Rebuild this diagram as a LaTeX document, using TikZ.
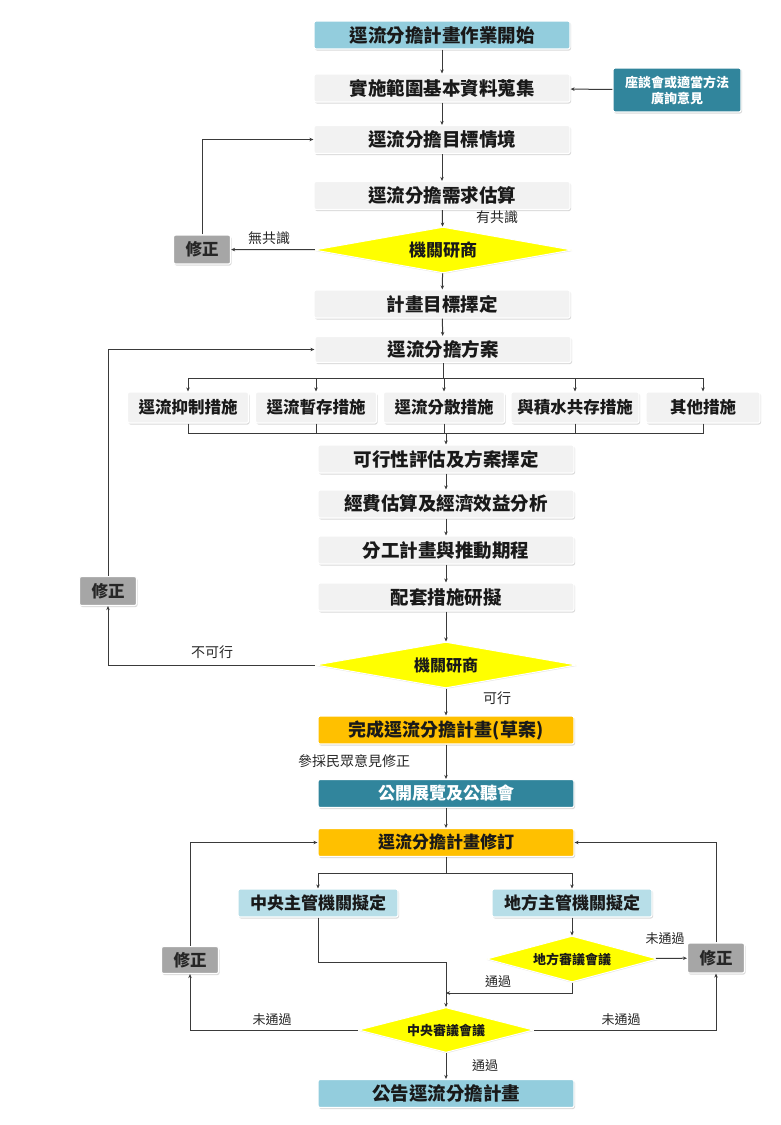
\documentclass[tikz,border=0pt]{standalone}
\usepackage{fontspec}
\setmainfont{Noto Sans CJK TC}
\usepackage{tikz}
\usepackage{xcolor}
\usetikzlibrary{shapes.geometric, shadows, arrows.meta}
\definecolor{start-blue}{HTML}{93CDDD}
\definecolor{light-blue}{HTML}{B7DEE8}
\definecolor{step-gray}{HTML}{F2F2F2}
\definecolor{deep-teal}{HTML}{31859C}
\definecolor{draft-orange}{HTML}{FFC000}
\definecolor{check-yellow}{HTML}{FFFF00}
\definecolor{fix-gray}{HTML}{A6A6A6}
\definecolor{line-gray}{HTML}{3A3A3A}
\tikzset{
    step-box/.style = {draw=white, fill=step-gray, line width=1.2pt, rectangle, rounded corners=2pt, minimum width=256pt, minimum height=28pt, inner sep=0pt, text=black!90, font=\fontsize{18.5pt}{20pt}\selectfont\bfseries, drop shadow={shadow xshift=1pt, shadow yshift=-1.5pt, opacity=0.3}},
    sub-box/.style = {step-box, minimum width=121pt, minimum height=31pt, font=\fontsize{16.5pt}{18pt}\selectfont\bfseries},
    side-box/.style = {step-box, fill=deep-teal, text=white, minimum width=128pt, minimum height=44pt, align=center, font=\fontsize{13pt}{16pt}\selectfont\bfseries},
    fix-box/.style = {step-box, fill=fix-gray, text=black!85, minimum width=57pt, minimum height=29pt, font=\fontsize{16.5pt}{18pt}\selectfont\bfseries},
    check-diamond/.style = {diamond, aspect=5, draw=white, fill=check-yellow, line width=1pt, inner sep=0pt, text=black!90, font=\fontsize{17pt}{18pt}\selectfont\bfseries, drop shadow={shadow xshift=0.5pt, shadow yshift=-1pt, opacity=0.2}},
    note-label/.style = {font=\fontsize{14pt}{16pt}\selectfont, text=black!85, inner sep=1pt},
    flow-line/.style = {draw=line-gray, line width=1pt},
    flow-arrow/.style = {flow-line, -{Stealth[length=4pt, width=3.5pt]}},
}

\begin{document}
\begin{tikzpicture}[x=1pt, y=-1pt]
\useasboundingbox (0,0) rectangle (781,1125);
% upper part
\node[step-box, fill=start-blue] (start) at (442,35) {逕流分擔計畫作業開始};
\node[step-box] (collect) at (442,88) {實施範圍基本資料蒐集};
\node[side-box] (hearing) at (677,90) {座談會或適當方法\\廣詢意見};
\node[step-box] (target) at (442,139.5) {逕流分擔目標情境};
\node[step-box] (demand) at (442,195.5) {逕流分擔需求估算};
\node[check-diamond, minimum width=258pt, minimum height=46pt] (consult1) at (443,250) {機關研商};
\node[fix-box] (fix1) at (202,249.5) {修正};
\node[step-box] (goal) at (442,304) {計畫目標擇定};
\node[step-box, minimum height=26pt] (plan) at (443,349.5) {逕流分擔方案};
\node[note-label] at (497,217) {有共識};
\node[note-label] at (269,238) {無共識};
% measures
\node[sub-box] (measure1) at (188,407.5) {逕流抑制措施};
\node[sub-box] (measure2) at (316,407.5) {逕流暫存措施};
\node[sub-box] (measure3) at (444,407.5) {逕流分散措施};
\node[sub-box, minimum width=128pt] (measure4) at (575,407.5) {與積水共存措施};
\node[sub-box, minimum width=114pt] (measure5) at (703,407.5) {其他措施};
\coordinate (bus-top) at (443,378);
\coordinate (bus-bottom) at (446,433);
% middle part
\node[step-box] (feasible) at (446,459) {可行性評估及方案擇定};
\node[step-box] (budget) at (446,504) {經費估算及經濟效益分析};
\node[step-box] (schedule) at (446,550) {分工計畫與推動期程};
\node[step-box] (support) at (446,597) {配套措施研擬};
\node[check-diamond, minimum width=261pt, minimum height=46pt, font=\fontsize{16pt}{18pt}\selectfont\bfseries] (consult2) at (446,665) {機關研商};
\node[fix-box] (fix2) at (108,591) {修正};
\node[note-label] at (212,652) {不可行};
\node[note-label] at (497,698) {可行};
% lower part
\node[step-box, fill=draft-orange, font=\fontsize{18pt}{20pt}\selectfont\bfseries] (draft) at (446,730) {完成逕流分擔計畫(草案)};
\node[step-box, fill=deep-teal, text=white, font=\fontsize{17pt}{18pt}\selectfont\bfseries] (exhibit) at (446,793.5) {公開展覽及公聽會};
\node[step-box, fill=draft-orange, font=\fontsize{17pt}{18pt}\selectfont\bfseries] (revise) at (446,842.5) {逕流分擔計畫修訂};
\node[note-label] at (354,761) {參採民眾意見修正};
\node[step-box, fill=light-blue, minimum width=160pt, font=\fontsize{17pt}{18pt}\selectfont\bfseries] (central) at (318,903) {中央主管機關擬定};
\node[step-box, fill=light-blue, minimum width=160pt, font=\fontsize{17pt}{18pt}\selectfont\bfseries] (local) at (572,903) {地方主管機關擬定};
\node[check-diamond, aspect=3.7, minimum width=171pt, minimum height=46pt, font=\fontsize{13pt}{15pt}\selectfont\bfseries] (local-review) at (572,959) {地方審議會議};
\node[check-diamond, aspect=3.9, minimum width=175pt, minimum height=45pt, font=\fontsize{13pt}{15pt}\selectfont\bfseries] (central-review) at (446,1030) {中央審議會議};
\node[fix-box, minimum height=27pt] (fix3) at (190,960) {修正};
\node[fix-box, minimum height=30pt] (fix4) at (716,958) {修正};
\node[step-box, fill=start-blue] (announce) at (446,1093.5) {公告逕流分擔計畫};
\coordinate (split) at (446,873);
\coordinate (merge) at (446,962);
\coordinate (join) at (446,993);
\node[note-label, font=\fontsize{13pt}{15pt}\selectfont] at (665,939) {未通過};
\node[note-label, font=\fontsize{13pt}{15pt}\selectfont] at (498,982) {通過};
\node[note-label, font=\fontsize{13pt}{15pt}\selectfont] at (272,1020) {未通過};
\node[note-label, font=\fontsize{13pt}{15pt}\selectfont] at (621,1020) {未通過};
\node[note-label, font=\fontsize{13pt}{15pt}\selectfont] at (485,1066) {通過};
% connectors
\draw[flow-arrow] (start) -- (collect);
\draw[flow-arrow] (hearing) -- (collect);
\draw[flow-arrow] (collect) -- (target);
\draw[flow-arrow] (target) -- (demand);
\draw[flow-arrow] (demand) -- (consult1);
\draw[flow-arrow] (consult1) -- (fix1);
\draw[flow-arrow] (fix1) |- (target);
\draw[flow-arrow] (consult1) -- (goal);
\draw[flow-arrow] (goal) -- (plan);
\draw[flow-line] (plan) -- (bus-top);
\foreach \m in {measure1,measure2,measure3,measure4,measure5} {
    \draw[flow-arrow] (bus-top) -| (\m);
    \draw[flow-line] (\m) |- (bus-bottom);
}
\draw[flow-arrow] (bus-bottom) -- (feasible);
\draw[flow-arrow] (feasible) -- (budget);
\draw[flow-arrow] (budget) -- (schedule);
\draw[flow-arrow] (schedule) -- (support);
\draw[flow-arrow] (support) -- (consult2);
\draw[flow-arrow] (consult2) -| (fix2);
\draw[flow-arrow] (fix2) |- (plan);
\draw[flow-arrow] (consult2) -- (draft);
\draw[flow-arrow] (draft) -- (exhibit);
\draw[flow-arrow] (exhibit) -- (revise);
\draw[flow-line] (revise) -- (split);
\draw[flow-arrow] (split) -| (central);
\draw[flow-arrow] (split) -| (local);
\draw[flow-arrow] (local) -- (local-review);
\draw[flow-arrow] (local-review) -- (fix4);
\draw[flow-line] (central) |- (merge);
\draw[flow-arrow] (merge) -- (central-review);
\draw[flow-arrow] (local-review) |- (join);
\draw[flow-arrow] (central-review) -| (fix3);
\draw[flow-arrow] (fix3) |- (revise);
\draw[flow-arrow] (central-review) -| (fix4);
\draw[flow-arrow] (fix4) |- (revise);
\draw[flow-arrow] (central-review) -- (announce);
\end{tikzpicture}
\end{document}
